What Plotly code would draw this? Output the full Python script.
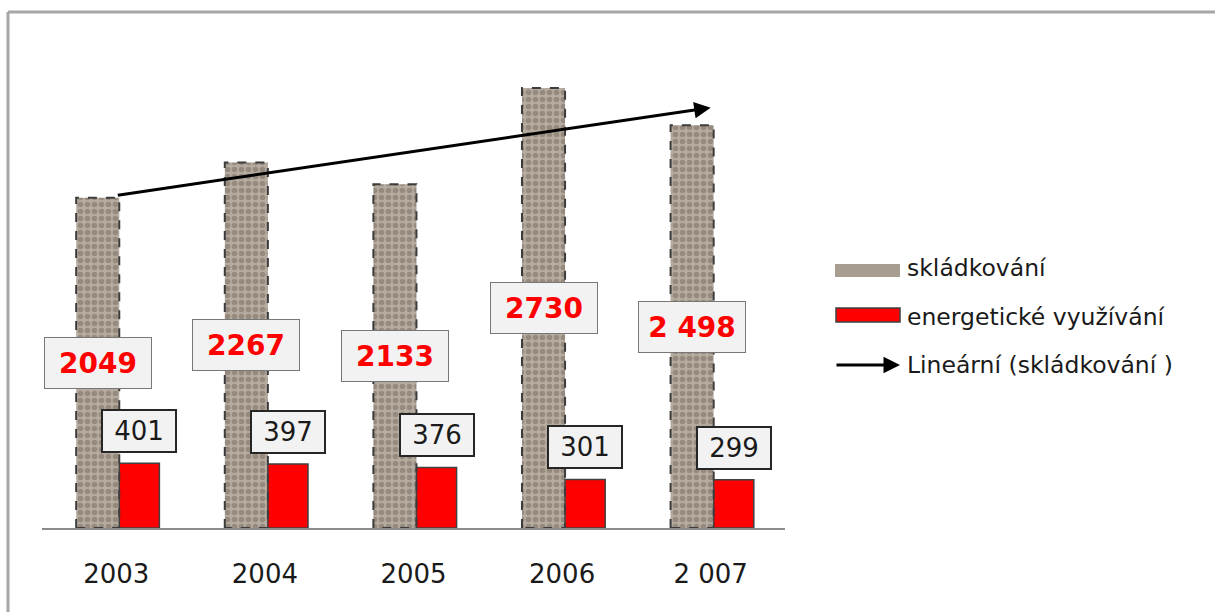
import numpy as np
import plotly.graph_objects as go

years = ["2003", "2004", "2005", "2006", "2 007"]
skladkovani = [2049, 2267, 2133, 2730, 2498]
energeticke = [401, 397, 376, 301, 299]
skl_labels = ["2049", "2267", "2133", "2730", "2 498"]
ene_labels = ["401", "397", "376", "301", "299"]
legend_names = ["skládkování", "energetické využívání", "Lineární (skládkování )"]

idx = np.arange(len(years))
G_OFF, G_W = -0.27, 0.29
R_OFF, R_W = 0.02, 0.27

FONT = "DejaVu Sans"
fig = go.Figure()

fig.add_trace(go.Bar(
    x=idx, y=skladkovani, offset=G_OFF, width=G_W,
    marker=dict(color="#b0a599",
                pattern=dict(shape=".", fgcolor="#75695f", bgcolor="#b6ab9f",
                             size=7, solidity=0.5),
                line=dict(width=0)),
    showlegend=False, name=legend_names[0]))

# dashed outline around the textured bars
ox, oy = [], []
for i, v in zip(idx, skladkovani):
    ox += [i + G_OFF, i + G_OFF, i + G_OFF + G_W, i + G_OFF + G_W, i + G_OFF, None]
    oy += [0, v, v, 0, 0, None]
fig.add_trace(go.Scatter(x=ox, y=oy, mode="lines",
                         line=dict(color="#3c3c3c", width=2, dash="dash"),
                         showlegend=False, hoverinfo="skip", cliponaxis=False))

fig.add_trace(go.Bar(
    x=idx, y=energeticke, offset=R_OFF, width=R_W,
    marker=dict(color="#ff0000", line=dict(color="#404040", width=1.5)),
    showlegend=False, name=legend_names[1]))

# linear trend of skládkování
slope, intercept = np.polyfit(idx + 1, skladkovani, 1)
trend = intercept + slope * (idx + 1)
fig.add_annotation(x=idx[-1], y=trend[-1], ax=idx[0], ay=trend[0],
                   xref="x", yref="y", axref="x", ayref="y", text="",
                   showarrow=True, arrowhead=2, arrowsize=1.1, arrowwidth=3,
                   arrowcolor="black", standoff=0)

for i, v, t in zip(idx, skladkovani, skl_labels):
    fig.add_annotation(x=i + G_OFF + G_W / 2, y=v / 2, text="<b>" + t + "</b>",
                       showarrow=False, font=dict(family=FONT, size=28, color="#ff0000"),
                       bgcolor="#f2f2f2", bordercolor="#777777", borderwidth=1,
                       borderpad=4, width=98, height=42,
                       xanchor="center", yanchor="middle")

for i, v, t in zip(idx, energeticke, ene_labels):
    fig.add_annotation(x=i + R_OFF + R_W / 2, y=v, text=t, yshift=10,
                       showarrow=False, font=dict(family=FONT, size=26, color="#1a1a1a"),
                       bgcolor="#f2f2f2", bordercolor="#262626", borderwidth=2,
                       borderpad=4, width=64, height=32,
                       xanchor="center", yanchor="bottom")

# custom legend (paper coords)
L, B, PW, PH = 42, 84, 1173, 488
def px(x):
    return (x - L) / PW
def py(y):
    return (612 - B - y) / PH

fig.add_shape(type="rect", xref="paper", yref="paper",
              x0=px(835), x1=px(900), y0=py(277), y1=py(264),
              fillcolor="#a89d91", line=dict(width=0))
fig.add_shape(type="rect", xref="paper", yref="paper",
              x0=px(836), x1=px(900), y0=py(322), y1=py(308),
              fillcolor="#ff0000", line=dict(color="#404040", width=1.5))
fig.add_annotation(x=px(900), y=py(365), ax=-65, ay=0,
                   xref="paper", yref="paper", axref="pixel", ayref="pixel",
                   text="", showarrow=True, arrowhead=2, arrowsize=1.1,
                   arrowwidth=3, arrowcolor="black", standoff=0)
for name, yy in zip(legend_names, [268, 317, 365]):
    fig.add_annotation(x=px(905), y=py(yy), xref="paper", yref="paper",
                       text=name, showarrow=False, xanchor="left", yanchor="middle",
                       font=dict(family=FONT, size=23.5, color="#1a1a1a"))

# outer frame
fig.add_shape(type="line", xref="paper", yref="paper",
              x0=px(8), x1=px(8), y0=py(620), y1=py(12),
              line=dict(color="#a6a6a6", width=3))
fig.add_shape(type="line", xref="paper", yref="paper",
              x0=px(8), x1=px(1220), y0=py(12), y1=py(12),
              line=dict(color="#a6a6a6", width=3))

fig.update_layout(
    width=1215, height=612,
    margin=dict(l=L, r=0, t=40, b=B),
    paper_bgcolor="white", plot_bgcolor="white",
    barmode="overlay", showlegend=False,
    font=dict(family=FONT),
    xaxis=dict(domain=[0, 743 / PW], range=[-0.5, len(years) - 0.5],
               tickmode="array", tickvals=idx, ticktext=years,
               showline=True, linecolor="#8c8c8c", linewidth=2,
               showgrid=False, zeroline=False, ticks="",
               ticklabelstandoff=22,
               tickfont=dict(family=FONT, size=26, color="#1a1a1a")),
    yaxis=dict(range=[0, PH / 0.1612], visible=False, showgrid=False,
               zeroline=False),
)

fig.write_html("out.html")
